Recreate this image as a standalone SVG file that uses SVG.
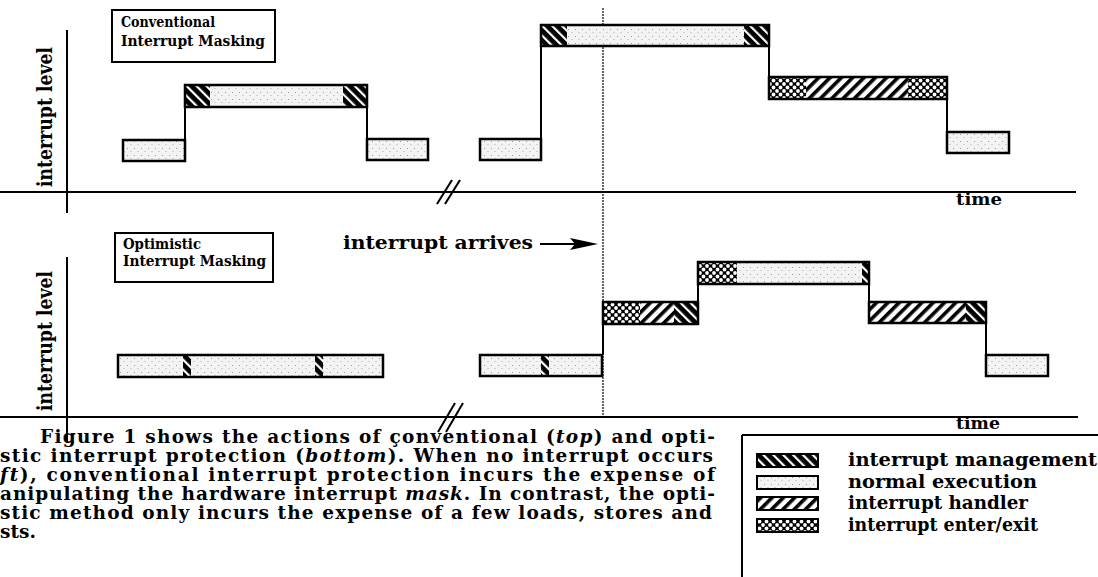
<svg xmlns="http://www.w3.org/2000/svg" width="1098" height="577" viewBox="0 0 1098 577">
<style>
  .t{font-family:"DejaVu Serif","Liberation Serif",serif;font-weight:bold;fill:#000}
  .ax{stroke:#000;stroke-width:2;fill:none}
  .bar{fill:none;stroke:#000;stroke-width:2.5}
  .st{stroke:#000;stroke-width:2;fill:none}
</style>
<defs>
  <pattern id="pNorm" width="7" height="7" patternUnits="userSpaceOnUse">
    <rect width="7" height="7" fill="#f3f3f3"/>
    <rect x="1" y="1" width="1" height="1" fill="#9a9a9a"/>
    <rect x="4.5" y="4" width="1" height="1" fill="#b0b0b0"/>
  </pattern>
  <pattern id="pMgmt" width="7" height="7" patternUnits="userSpaceOnUse" patternTransform="rotate(-45)">
    <rect width="7" height="7" fill="#000"/>
    <rect x="0" y="0" width="2.2" height="7" fill="#fff"/>
  </pattern>
  <pattern id="pHand" width="8" height="8" patternUnits="userSpaceOnUse" patternTransform="rotate(45)">
    <rect width="8" height="8" fill="#fff"/>
    <rect x="0" y="0" width="3.6" height="8" fill="#000"/>
  </pattern>
  <pattern id="pCross" width="7" height="7" patternUnits="userSpaceOnUse">
    <rect width="7" height="7" fill="#000"/>
    <circle cx="0" cy="0" r="1.9" fill="#fff"/>
    <circle cx="7" cy="0" r="1.9" fill="#fff"/>
    <circle cx="0" cy="7" r="1.9" fill="#fff"/>
    <circle cx="7" cy="7" r="1.9" fill="#fff"/>
    <circle cx="3.5" cy="3.5" r="1.9" fill="#fff"/>
  </pattern>
</defs>
<rect width="1098" height="577" fill="#fff"/>

<!-- axes and connectors -->
<g id="connectors">
  <line class="ax" x1="67" y1="30" x2="67" y2="213"/>
  <line class="ax" x1="0" y1="192" x2="1076" y2="192"/>
  <line class="ax" x1="437" y1="204" x2="452" y2="180"/>
  <line class="ax" x1="445" y1="204" x2="460" y2="180"/>
  <line class="ax" x1="67" y1="257" x2="67" y2="442"/>
  <line class="ax" x1="0" y1="417" x2="1078" y2="417"/>
  <line class="ax" x1="438" y1="432" x2="455" y2="403"/>
  <line class="ax" x1="446" y1="432" x2="463" y2="403"/>
  <line x1="603" y1="8" x2="603" y2="418" stroke="#000" stroke-width="1.2" stroke-dasharray="2 1"/>
  <!-- steps top -->
  <line class="st" x1="185" y1="140" x2="185" y2="107"/>
  <line class="st" x1="367" y1="107" x2="367" y2="139"/>
  <line class="st" x1="541" y1="139" x2="541" y2="46"/>
  <line class="st" x1="769" y1="46" x2="769" y2="77"/>
  <line class="st" x1="947" y1="99" x2="947" y2="132"/>
  <!-- steps bottom -->
  <line class="st" x1="603" y1="355" x2="603" y2="324"/>
  <line class="st" x1="698" y1="302" x2="698" y2="284"/>
  <line class="st" x1="869" y1="284" x2="869" y2="302"/>
  <line class="st" x1="986" y1="323" x2="986" y2="355"/>
  <!-- interrupt arrives arrow -->
  <line x1="540" y1="244" x2="578" y2="244" stroke="#000" stroke-width="2"/>
  <polygon points="570,238 598,244 570,250 575,244" fill="#000"/>
</g>

<!-- labels -->
<g id="labels">
  <text class="t" font-size="20" text-anchor="middle" textLength="140" lengthAdjust="spacingAndGlyphs" transform="translate(52,117) rotate(-90)">interrupt level</text>
  <text class="t" font-size="20" text-anchor="middle" textLength="140" lengthAdjust="spacingAndGlyphs" transform="translate(52,341) rotate(-90)">interrupt level</text>
  <text class="t" font-size="17" x="956" y="205" textLength="46" lengthAdjust="spacingAndGlyphs">time</text>
  <text class="t" font-size="17" x="956" y="429" textLength="44" lengthAdjust="spacingAndGlyphs">time</text>
  <text class="t" font-size="18.5" x="343" y="249" textLength="190" lengthAdjust="spacingAndGlyphs">interrupt arrives</text>
</g>

<g id="conventional-title">
  <rect x="112" y="10" width="163" height="52" fill="#fff" stroke="#000" stroke-width="2"/>
  <text class="t" font-size="15" x="121" y="27" textLength="94" lengthAdjust="spacingAndGlyphs">Conventional</text>
  <text class="t" font-size="15" x="121" y="46" textLength="144" lengthAdjust="spacingAndGlyphs">Interrupt Masking</text>
</g>
<g id="optimistic-title">
  <rect x="115" y="233" width="158" height="49" fill="#fff" stroke="#000" stroke-width="2"/>
  <text class="t" font-size="15" x="123" y="249" textLength="78" lengthAdjust="spacingAndGlyphs">Optimistic</text>
  <text class="t" font-size="15" x="123" y="266" textLength="143" lengthAdjust="spacingAndGlyphs">Interrupt Masking</text>
</g>

<!-- top panel bars -->
<g id="top-bar-1">
  <rect x="123" y="140" width="62" height="21" fill="url(#pNorm)"/>
  <rect class="bar" x="123" y="140" width="62" height="21"/>
</g>
<g id="top-bar-2">
  <rect x="185" y="85" width="25" height="22" fill="url(#pMgmt)"/>
  <rect x="210" y="85" width="133" height="22" fill="url(#pNorm)"/>
  <rect x="343" y="85" width="24" height="22" fill="url(#pMgmt)"/>
  <rect class="bar" x="185" y="85" width="182" height="22"/>
</g>
<g id="top-bar-3">
  <rect x="367" y="139" width="61" height="21" fill="url(#pNorm)"/>
  <rect class="bar" x="367" y="139" width="61" height="21"/>
</g>
<g id="top-bar-4">
  <rect x="480" y="139" width="61" height="21" fill="url(#pNorm)"/>
  <rect class="bar" x="480" y="139" width="61" height="21"/>
</g>
<g id="top-bar-5">
  <rect x="541" y="25" width="26" height="21" fill="url(#pMgmt)"/>
  <rect x="567" y="25" width="177" height="21" fill="url(#pNorm)"/>
  <rect x="744" y="25" width="25" height="21" fill="url(#pMgmt)"/>
  <rect class="bar" x="541" y="25" width="228" height="21"/>
</g>
<g id="top-bar-6">
  <rect x="769" y="77" width="37" height="22" fill="url(#pCross)"/>
  <rect x="806" y="77" width="102" height="22" fill="url(#pHand)"/>
  <rect x="908" y="77" width="39" height="22" fill="url(#pCross)"/>
  <rect class="bar" x="769" y="77" width="178" height="22"/>
</g>
<g id="top-bar-7">
  <rect x="947" y="132" width="62" height="21" fill="url(#pNorm)"/>
  <rect class="bar" x="947" y="132" width="62" height="21"/>
</g>

<!-- bottom panel bars -->
<g id="bottom-bar-1">
  <rect x="118" y="355" width="65" height="22" fill="url(#pNorm)"/>
  <rect x="183" y="355" width="8" height="22" fill="url(#pMgmt)"/>
  <rect x="191" y="355" width="124" height="22" fill="url(#pNorm)"/>
  <rect x="315" y="355" width="8" height="22" fill="url(#pMgmt)"/>
  <rect x="323" y="355" width="60" height="22" fill="url(#pNorm)"/>
  <rect class="bar" x="118" y="355" width="265" height="22"/>
</g>
<g id="bottom-bar-2">
  <rect x="480" y="355" width="61" height="21" fill="url(#pNorm)"/>
  <rect x="541" y="355" width="8" height="21" fill="url(#pMgmt)"/>
  <rect x="549" y="355" width="53" height="21" fill="url(#pNorm)"/>
  <rect class="bar" x="480" y="355" width="122" height="21"/>
</g>
<g id="bottom-bar-3">
  <rect x="603" y="302" width="37" height="22" fill="url(#pCross)"/>
  <rect x="640" y="302" width="34" height="22" fill="url(#pHand)"/>
  <rect x="674" y="302" width="24" height="22" fill="url(#pMgmt)"/>
  <rect class="bar" x="603" y="302" width="95" height="22"/>
</g>
<g id="bottom-bar-4">
  <rect x="698" y="262" width="39" height="22" fill="url(#pCross)"/>
  <rect x="737" y="262" width="125" height="22" fill="url(#pNorm)"/>
  <rect x="862" y="262" width="7" height="22" fill="url(#pMgmt)"/>
  <rect class="bar" x="698" y="262" width="171" height="22"/>
</g>
<g id="bottom-bar-5">
  <rect x="869" y="302" width="97" height="21" fill="url(#pHand)"/>
  <rect x="966" y="302" width="20" height="21" fill="url(#pMgmt)"/>
  <rect class="bar" x="869" y="302" width="117" height="21"/>
</g>
<g id="bottom-bar-6">
  <rect x="986" y="355" width="62" height="21" fill="url(#pNorm)"/>
  <rect class="bar" x="986" y="355" width="62" height="21"/>
</g>

<!-- caption paragraph -->
<g id="caption" class="t" font-size="18.5">
  <text x="40" y="443" textLength="675" lengthAdjust="spacing">Figure 1 shows the actions of çonventional (<tspan font-style="italic">top</tspan>) and opti-</text>
  <text x="0" y="462" textLength="713" lengthAdjust="spacing">stic interrupt protection (<tspan font-style="italic">bottom</tspan>). When no interrupt occurs</text>
  <text x="0" y="481" textLength="715" lengthAdjust="spacing"><tspan font-style="italic">ft</tspan>), conventional interrupt protection incurs the expense of</text>
  <text x="0" y="500" textLength="715" lengthAdjust="spacing">anipulating the hardware interrupt <tspan font-style="italic">mask</tspan>. In contrast, the opti-</text>
  <text x="0" y="519" textLength="712" lengthAdjust="spacing">stic method only incurs the expense of a few loads, stores and</text>
  <text x="0" y="538">sts.</text>
</g>

<!-- legend -->
<g id="legend">
  <line class="ax" x1="742" y1="435" x2="1098" y2="435"/>
  <line class="ax" x1="742" y1="435" x2="742" y2="577"/>
</g>
<g id="legend-mgmt">
  <rect x="757" y="454" width="61" height="13" fill="url(#pMgmt)" stroke="#000" stroke-width="2"/>
  <text class="t" font-size="18" x="848" y="466" textLength="249" lengthAdjust="spacingAndGlyphs">interrupt management</text>
</g>
<g id="legend-normal">
  <rect x="757" y="476" width="61" height="13" fill="url(#pNorm)" stroke="#000" stroke-width="2"/>
  <text class="t" font-size="18" x="848" y="488" textLength="189" lengthAdjust="spacingAndGlyphs">normal execution</text>
</g>
<g id="legend-handler">
  <rect x="757" y="497" width="61" height="13" fill="url(#pHand)" stroke="#000" stroke-width="2"/>
  <text class="t" font-size="18" x="848" y="509" textLength="180" lengthAdjust="spacingAndGlyphs">interrupt handler</text>
</g>
<g id="legend-enter-exit">
  <rect x="757" y="519" width="61" height="13" fill="url(#pCross)" stroke="#000" stroke-width="2"/>
  <text class="t" font-size="18" x="848" y="531" textLength="190" lengthAdjust="spacingAndGlyphs">interrupt enter/exit</text>
</g>
</svg>
